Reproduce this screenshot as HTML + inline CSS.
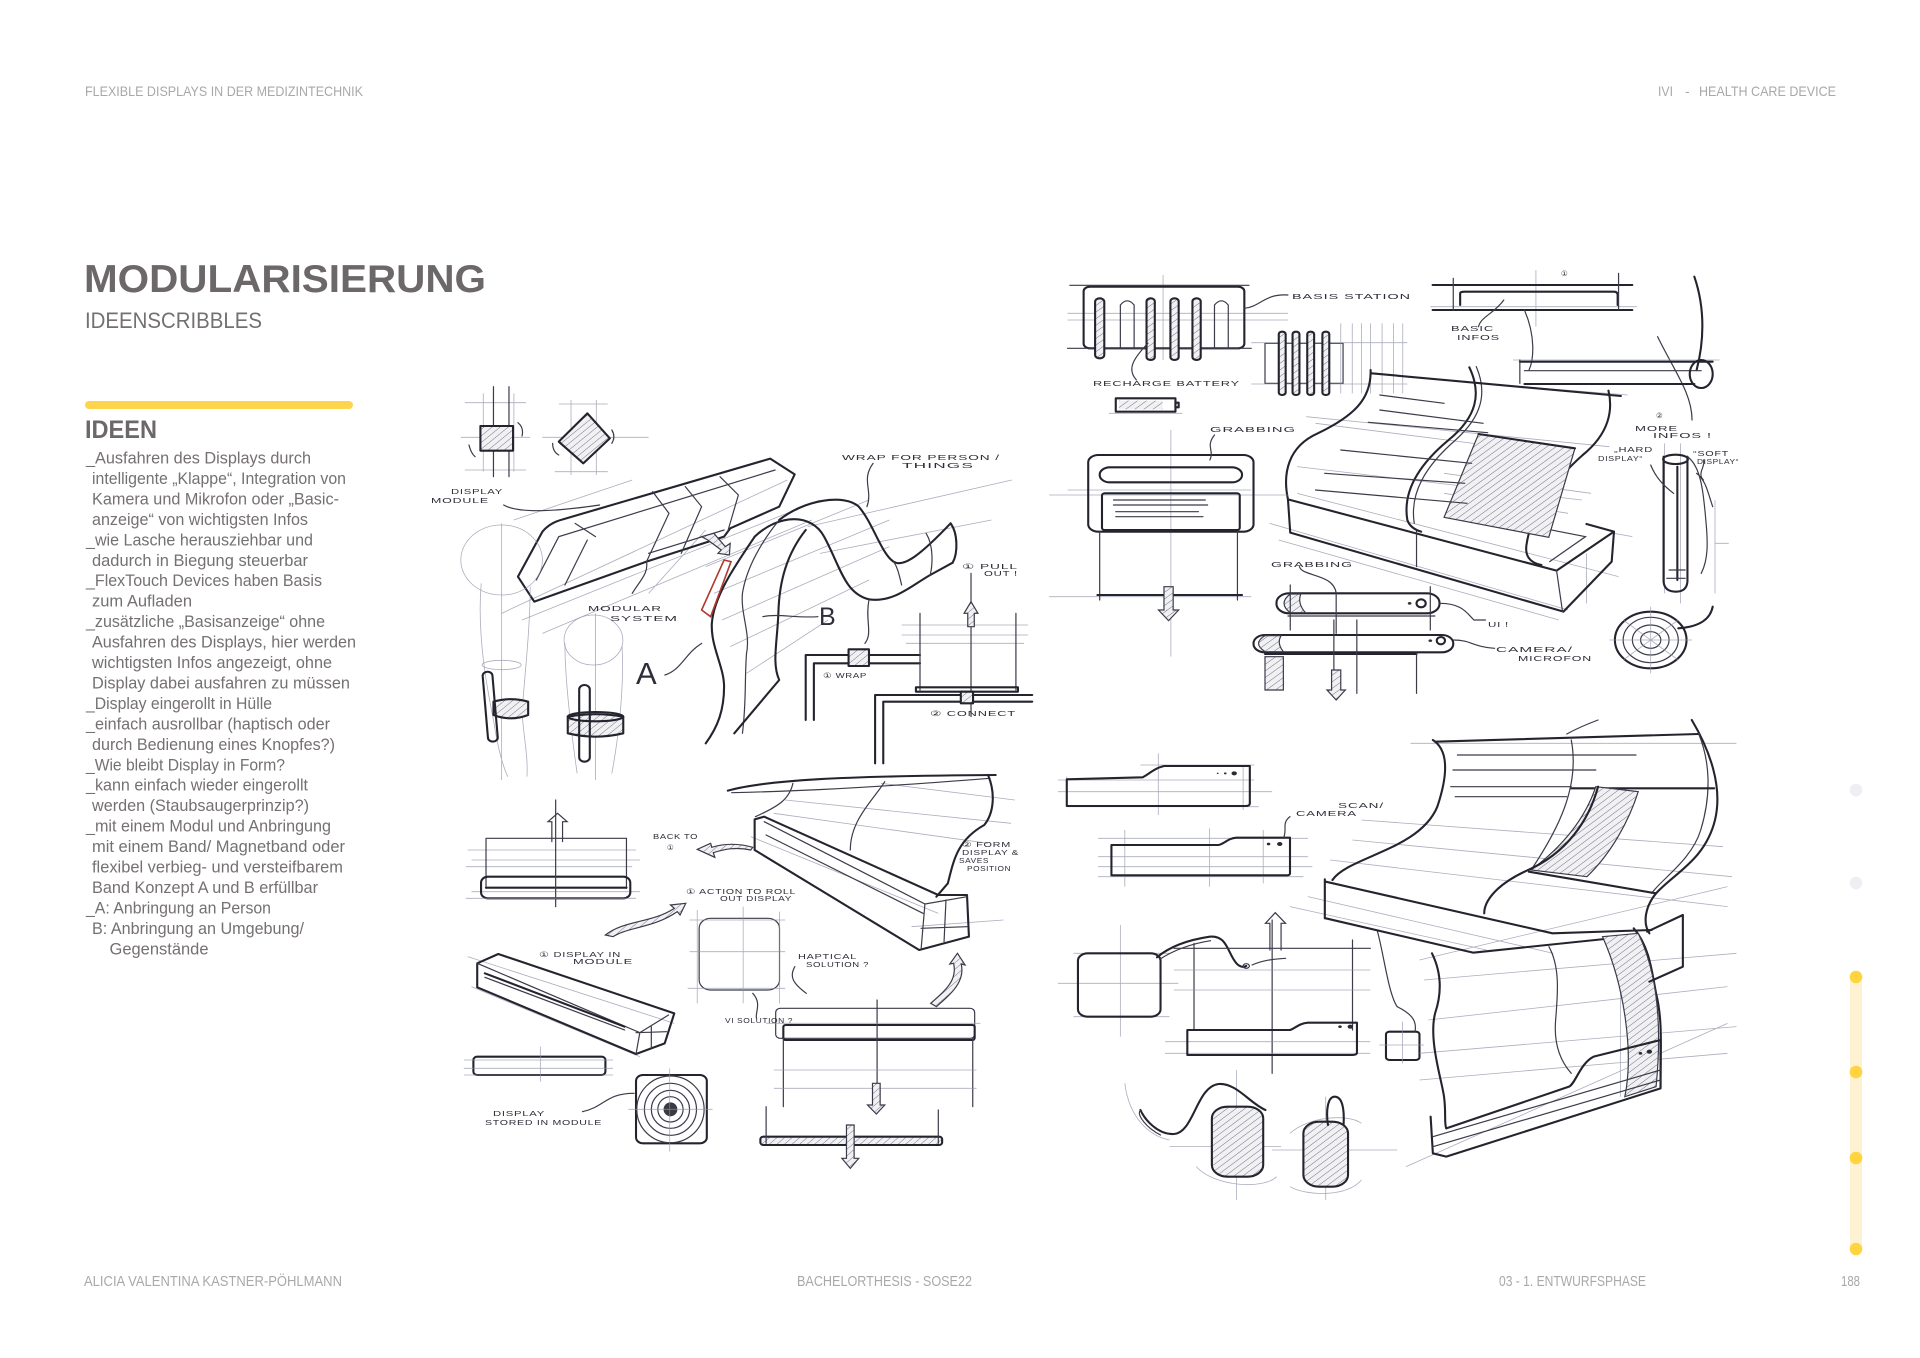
<!DOCTYPE html>
<html><head><meta charset="utf-8"><style>
html,body{margin:0;padding:0;background:#fff}
body{width:1920px;height:1358px;overflow:hidden}
svg{display:block}
.sk path,.sk rect,.sk ellipse,.sk circle,.sk line{vector-effect:non-scaling-stroke}
.k{stroke:#24242f;stroke-width:2.1;fill:none;stroke-linecap:round;stroke-linejoin:round}
.m{stroke:#3b3b4a;stroke-width:1.2;fill:none;stroke-linecap:round}
.t{stroke:#8f92a8;stroke-width:0.8;fill:none;opacity:.75}
.h{fill:url(#hatch)}
.lb{font-family:"Liberation Sans",sans-serif;font-size:7.5px;fill:#2e2e3a;letter-spacing:0.5px}
.tx{font-family:"Liberation Sans",sans-serif}
</style></head><body>
<svg width="1920" height="1358" viewBox="0 0 1920 1358" xmlns="http://www.w3.org/2000/svg">
<defs>
<pattern id="hatch" patternUnits="userSpaceOnUse" width="14" height="14" patternTransform="rotate(45)">
<rect width="14" height="14" fill="#f1f1f4"/>
<line x1="0" y1="0" x2="0" y2="14" stroke="#6a6a7a" stroke-width="2.5"/>
</pattern>
</defs>

<!-- header -->
<text class="tx" x="85" y="96" font-size="14" fill="#a8a8a8" textLength="278" lengthAdjust="spacingAndGlyphs">FLEXIBLE DISPLAYS IN DER MEDIZINTECHNIK</text>
<text class="tx" x="1658" y="96" font-size="14" fill="#a8a8a8" textLength="15" lengthAdjust="spacingAndGlyphs">IVI</text>
<text class="tx" x="1685" y="96" font-size="14" fill="#a8a8a8">-</text>
<text class="tx" x="1699" y="96" font-size="14" fill="#a8a8a8" textLength="137" lengthAdjust="spacingAndGlyphs">HEALTH CARE DEVICE</text>

<!-- title -->
<text class="tx" x="84" y="292" font-size="39" font-weight="bold" fill="#6c6768" textLength="402" lengthAdjust="spacingAndGlyphs">MODULARISIERUNG</text>
<text class="tx" x="85" y="328" font-size="22.5" fill="#747071" textLength="177" lengthAdjust="spacingAndGlyphs">IDEENSCRIBBLES</text>
<rect x="85" y="401" width="268" height="8" rx="4" fill="#ffd44d"/>
<text class="tx" x="85" y="438" font-size="25" font-weight="bold" fill="#6c6768" textLength="72" lengthAdjust="spacingAndGlyphs">IDEEN</text>

<g class="tx" font-size="16.5" fill="#757071">
<text x="86" y="463.5" textLength="225" lengthAdjust="spacingAndGlyphs">_Ausfahren des Displays durch</text>
<text x="92" y="484" textLength="254" lengthAdjust="spacingAndGlyphs">intelligente „Klappe“, Integration von</text>
<text x="92" y="504.4" textLength="247" lengthAdjust="spacingAndGlyphs">Kamera und Mikrofon oder „Basic-</text>
<text x="92" y="524.9" textLength="216" lengthAdjust="spacingAndGlyphs">anzeige“ von wichtigsten Infos</text>
<text x="86" y="545.3" textLength="227" lengthAdjust="spacingAndGlyphs">_wie Lasche herausziehbar und</text>
<text x="92" y="565.8" textLength="216" lengthAdjust="spacingAndGlyphs">dadurch in Biegung steuerbar</text>
<text x="86" y="586.2" textLength="236" lengthAdjust="spacingAndGlyphs">_FlexTouch Devices haben Basis</text>
<text x="92" y="606.7" textLength="100" lengthAdjust="spacingAndGlyphs">zum Aufladen</text>
<text x="86" y="627.1" textLength="239" lengthAdjust="spacingAndGlyphs">_zusätzliche „Basisanzeige“ ohne</text>
<text x="92" y="647.6" textLength="264" lengthAdjust="spacingAndGlyphs">Ausfahren des Displays, hier werden</text>
<text x="92" y="668" textLength="240" lengthAdjust="spacingAndGlyphs">wichtigsten Infos angezeigt, ohne</text>
<text x="92" y="688.5" textLength="258" lengthAdjust="spacingAndGlyphs">Display dabei ausfahren zu müssen</text>
<text x="86" y="708.9" textLength="186" lengthAdjust="spacingAndGlyphs">_Display eingerollt in Hülle</text>
<text x="86" y="729.4" textLength="244" lengthAdjust="spacingAndGlyphs">_einfach ausrollbar (haptisch oder</text>
<text x="92" y="749.8" textLength="243" lengthAdjust="spacingAndGlyphs">durch Bedienung eines Knopfes?)</text>
<text x="86" y="770.3" textLength="199" lengthAdjust="spacingAndGlyphs">_Wie bleibt Display in Form?</text>
<text x="86" y="790.7" textLength="222" lengthAdjust="spacingAndGlyphs">_kann einfach wieder eingerollt</text>
<text x="92" y="811.2" textLength="217" lengthAdjust="spacingAndGlyphs">werden (Staubsaugerprinzip?)</text>
<text x="86" y="831.6" textLength="245" lengthAdjust="spacingAndGlyphs">_mit einem Modul und Anbringung</text>
<text x="92" y="852.1" textLength="253" lengthAdjust="spacingAndGlyphs">mit einem Band/ Magnetband oder</text>
<text x="92" y="872.5" textLength="251" lengthAdjust="spacingAndGlyphs">flexibel verbieg- und versteifbarem</text>
<text x="92" y="893" textLength="226" lengthAdjust="spacingAndGlyphs">Band Konzept A und B erfüllbar</text>
<text x="86" y="913.4" textLength="185" lengthAdjust="spacingAndGlyphs">_A: Anbringung an Person</text>
<text x="92" y="933.9" textLength="212" lengthAdjust="spacingAndGlyphs">B: Anbringung an Umgebung/</text>
<text x="109.5" y="954.3" textLength="99" lengthAdjust="spacingAndGlyphs">Gegenstände</text>
</g>

<!-- footer -->
<g class="tx" font-size="15" fill="#a9a9a9">
<text x="84" y="1286" textLength="258" lengthAdjust="spacingAndGlyphs">ALICIA VALENTINA KASTNER-PÖHLMANN</text>
<text x="797" y="1286" textLength="175" lengthAdjust="spacingAndGlyphs">BACHELORTHESIS - SOSE22</text>
<text x="1499" y="1286" textLength="147" lengthAdjust="spacingAndGlyphs">03 - 1. ENTWURFSPHASE</text>
<text x="1841" y="1286" textLength="19" lengthAdjust="spacingAndGlyphs">188</text>
</g>

<!-- sidebar -->
<circle cx="1856" cy="790" r="6.3" fill="#eeeff2"/>
<circle cx="1856" cy="883" r="6.3" fill="#eeeff2"/>
<rect x="1850" y="977" width="12" height="272" fill="#fff2d2"/>
<circle cx="1856" cy="977" r="6.3" fill="#ffd43f"/>
<circle cx="1856" cy="1072" r="6.3" fill="#ffd43f"/>
<circle cx="1856" cy="1158" r="6.3" fill="#ffd43f"/>
<circle cx="1856" cy="1249" r="6.3" fill="#ffd43f"/>

<!-- ===== G7: left top sketches ===== -->
<g class="sk" transform="translate(420,380) scale(0.40816,0.33333)">
<path class="t" d="M155,40 V275 M230,40 V275 M110,68 H260 M110,270 H260 M100,172 H270"/>
<path class="m" d="M180,20 V290 M218,20 V290"/>
<rect class="k h" x="148" y="138" width="80" height="74"/>
<path class="m" d="M240,128 q15,15 10,40 M120,195 q5,25 15,35"/>
<path class="t" d="M370,60 V285 M432,60 V285 M340,72 H460 M330,275 H460 M300,172 H560"/>
<path class="k h" d="M410,100 L465,175 L400,250 L340,185 Z"/>
<path class="m" d="M470,150 q10,20 0,40 M325,190 q0,25 15,35"/>

<path class="t" d="M200,700 L900,300 M250,720 L980,360 M300,760 L960,420 M560,640 L700,450 M230,420 L520,300"/>
<path class="k" d="M240,590 L300,455 Q318,428 350,418 L858,236 L918,283 L880,380 L760,445 L745,470 L555,545 L280,665 Z"/>
<path class="m" d="M285,600 L340,470 L870,270 M380,430 L430,470 M410,480 L355,615 M570,335 L610,400 L555,545 M650,320 L690,380 L640,520 M735,290 L780,345 L755,450 M560,520 L745,450"/>
<path class="m" d="M205,375 C240,400 330,395 440,375 M520,640 C540,600 560,580 555,545"/>

<ellipse class="t" cx="200" cy="540" rx="100" ry="105"/>
<path class="t" d="M150,610 C140,750 160,900 180,1020 C190,1100 200,1150 215,1190 M270,620 C270,750 255,900 250,1000 C255,1080 265,1130 262,1190 M200,430 V1200"/>
<ellipse class="t" cx="200" cy="855" rx="48" ry="14"/>
<path class="k h" d="M180,965 L180,1005 Q222,1025 265,1005 L265,965 Q222,950 180,965 Z"/>
<rect class="k" x="160" y="875" width="24" height="210" rx="12" transform="rotate(-4 172 980)"/>

<ellipse class="t" cx="425" cy="780" rx="72" ry="75"/>
<path class="t" d="M355,790 C355,900 370,1050 385,1180 M495,800 C500,900 490,1050 470,1180 M430,700 V1200"/>
<path class="k h" d="M362,1010 L362,1060 Q430,1080 498,1060 L498,1010 Q430,995 362,1010 Z"/>
<ellipse class="k" cx="430" cy="1010" rx="68" ry="14"/>
<rect class="k" x="390" y="915" width="26" height="230" rx="13"/>

<path class="t" d="M700,560 L1100,360 M720,640 L1150,420 M740,720 L1150,500 M760,800 L1100,600 M800,880 L1000,720 M950,440 L1450,300 M980,520 L1400,420"/>
<path class="k" d="M820,470 C880,400 960,400 990,470 C1030,560 1040,640 1100,658 C1160,668 1200,620 1250,585 L1305,548"/>
<path class="k" d="M880,420 C940,360 1040,340 1075,380 C1110,430 1130,520 1160,545 C1185,565 1230,520 1300,430"/>
<path class="k" d="M1300,430 C1318,460 1318,520 1305,548"/>
<path class="m" d="M1160,545 C1170,560 1175,590 1180,615 M1240,460 C1260,500 1255,560 1250,585"/>
<path class="k" d="M820,470 C770,560 720,650 715,730 C712,800 745,860 745,920 C745,990 730,1040 700,1090"/>
<path class="m" d="M880,420 C840,480 800,560 790,640 C785,700 810,760 800,820 C795,900 800,960 790,1060"/>
<path class="k" d="M945,450 C900,520 880,600 878,700 C875,790 862,850 880,900 L770,1060"/>
<path d="M690,690 L745,540 L762,545 L712,710 Z" stroke="#b03a2e" stroke-width="1.6" fill="none" vector-effect="non-scaling-stroke"/>
<path class="m h" d="M690,470 L720,460 L748,500 L760,490 L758,525 L730,520 L738,510 L705,480 Z"/>
<path class="m" d="M1110,250 C1080,300 1110,330 1095,380 M600,885 C640,870 650,820 690,790 M840,710 C880,700 920,715 975,710 M1100,660 C1090,720 1110,760 1090,790"/>

<path class="k" d="M945,1020 V825 H1225 M965,1020 V850 H1225"/>
<rect class="k h" x="1050" y="808" width="50" height="50"/>
<path class="t" d="M1180,735 H1490 M1180,765 H1490 M1190,790 H1480"/>
<path class="m" d="M1225,700 V930 M1460,700 V930 M1350,580 V1010"/>
<path class="k" d="M1215,922 H1465 V935 H1215 Z"/>
<path class="m h" d="M1342,740 V700 H1333 L1350,665 L1367,700 H1358 V740 Z"/>
<path class="k" d="M1115,1150 V945 H1500 M1135,1150 V965 H1500"/>
<rect class="k h" x="1325" y="935" width="30" height="35"/>
</g>

<!-- ===== G9: left bottom sketches ===== -->
<g class="sk" transform="translate(460,760) scale(0.38265,0.33333)">
<path class="t" d="M20,270 H460 M30,300 H470 M15,320 H450 M30,395 H470"/>
<path class="m" d="M68,235 H435 V385 M68,235 V385"/>
<path class="k" d="M68,383 H435"/>
<rect class="k" x="55" y="350" width="390" height="65" rx="18"/>
<path class="m" d="M250,120 V440"/>
<path class="m" d="M240,245 V185 H230 L255,160 L280,185 H268 V245"/>
<path class="t" d="M15,415 H460"/>

<path class="m h" d="M760,270 C720,260 690,268 662,278 L666,292 L620,268 L655,250 L658,262 C690,250 730,250 765,262 Z"/>

<path class="t" d="M850,120 L1440,190 M820,160 L1380,250 M1100,70 L1450,120 M760,230 L1250,460 M1180,500 L1420,480"/>
<path class="k" d="M770,178 L795,170 L1250,405 L1325,405 L1330,530 L1200,570 L770,270 Z"/>
<path class="m" d="M795,185 L1215,432 L1205,568 M1215,432 L1325,410 M800,225 L1210,460 M1270,420 L1265,545 M1205,505 L1325,500"/>
<path class="k" d="M700,92 C800,60 1000,48 1400,45"/>
<path class="m" d="M710,98 C820,95 1000,90 1385,55"/>
<path class="k" d="M1380,45 C1400,100 1395,160 1370,195 C1300,240 1290,300 1275,370 L1245,410"/>
<path class="m" d="M772,170 C830,140 860,120 870,70 M1020,270 C1020,180 1080,120 1110,65"/>

<path class="m h" d="M380,525 C430,480 500,490 560,445 L550,435 L590,430 L575,465 L568,455 C505,505 440,500 400,530 Z"/>

<rect class="m" x="625" y="475" width="210" height="215" rx="30"/>
<path class="t" d="M620,450 V730 M835,455 V730 M740,440 V730 M600,480 H850 M600,575 H850 M595,685 H850"/>
<path class="m" d="M875,620 C860,650 870,670 905,700 M765,700 C790,730 770,760 775,775"/>

<path class="t" d="M20,590 L560,790 M30,680 L470,890"/>
<path class="k" d="M45,610 L100,582 L560,760 L535,850 L460,882 L45,682 Z"/>
<path class="m" d="M45,610 L470,818 L460,882 M470,818 L545,765 M500,800 V865 M460,818 L540,815"/>
<path class="k" d="M65,640 L430,800"/>
<path class="m" d="M65,652 L430,810"/>

<rect class="k" x="35" y="890" width="345" height="55" rx="10"/>
<path class="t" d="M10,900 H400 M10,925 H400 M10,945 H400 M210,860 V965"/>

<rect class="k" x="460" y="945" width="185" height="205" rx="18"/>
<ellipse class="m" cx="550" cy="1048" rx="88" ry="100"/>
<ellipse class="m" cx="550" cy="1048" rx="68" ry="78"/>
<ellipse class="m" cx="550" cy="1048" rx="50" ry="57"/>
<ellipse class="m" cx="550" cy="1048" rx="33" ry="38"/>
<ellipse cx="550" cy="1048" rx="18" ry="21" fill="#3a3a44"/>
<path class="t" d="M548,925 V1175 M440,1048 H660"/>
<path class="m" d="M320,1055 C380,1040 380,1000 455,1000"/>

<rect class="m" x="825" y="745" width="520" height="90" rx="12"/>
<rect class="k" x="845" y="795" width="500" height="45" rx="6"/>
<path class="m" d="M845,835 V1040 M1340,835 V1040 M1090,720 V1060"/>
<path class="t" d="M820,930 H1350 M820,985 H1350 M800,790 H1360"/>
<path class="m h" d="M1078,970 V1035 H1065 L1088,1062 L1110,1035 H1098 V970 Z"/>
<rect class="k h" x="785" y="1130" width="475" height="25" rx="8"/>
<path class="m" d="M800,1040 V1150 M1250,1050 V1150"/>
<path class="m h" d="M1010,1095 V1195 H998 L1020,1225 L1042,1195 H1030 V1095 Z"/>
<path class="m h" d="M1230,730 C1270,690 1300,660 1290,610 L1280,612 L1300,580 L1320,615 L1310,612 C1320,665 1285,700 1245,740 Z"/>
</g>

<!-- ===== G8: right top sketches ===== -->
<g class="sk" transform="translate(1040,260) scale(0.45918,0.33333)">
<path class="t" d="M268,45 V300 M60,160 H540 M60,180 H540"/>
<rect class="k" x="95" y="80" width="350" height="185" rx="14"/>
<path class="m" d="M65,76 H455 M60,265 H460"/>
<rect class="k h" x="120" y="115" width="20" height="180" rx="10"/>
<rect class="k h" x="232" y="115" width="18" height="185" rx="9"/>
<rect class="k h" x="284" y="115" width="18" height="185" rx="9"/>
<rect class="k h" x="332" y="115" width="18" height="185" rx="9"/>
<path class="m" d="M175,265 V135 Q190,110 205,135 V265 M380,265 V135 Q395,110 410,135 V265"/>
<path class="m" d="M445,145 C480,140 490,100 540,105 M235,250 C200,300 190,330 210,360"/>

<rect class="k" x="165" y="415" width="130" height="40"/>
<rect class="h" x="172" y="422" width="95" height="26"/>
<rect class="k" x="295" y="428" width="7" height="14"/>
<path class="t" d="M150,460 H310"/>

<rect class="m" x="490" y="250" width="170" height="120"/>
<path class="t" d="M655,190 V400 M680,190 V400 M700,190 V400 M720,190 V400 M745,190 V400 M770,190 V400 M790,190 V400 M460,248 H800 M460,372 H800"/>
<rect class="k h" x="520" y="215" width="15" height="190" rx="7"/>
<rect class="k h" x="550" y="215" width="15" height="190" rx="7"/>
<rect class="k h" x="582" y="215" width="15" height="190" rx="7"/>
<rect class="k h" x="615" y="215" width="15" height="190" rx="7"/>

<path class="t" d="M1080,30 V200 M850,140 H1300"/>
<path class="k" d="M855,75 H1290 M855,150 H1290"/>
<path class="k" d="M915,135 V100 Q915,95 925,95 H1250 Q1258,95 1258,105 V135"/>
<path class="m" d="M900,55 V150 M1260,40 V150 M1010,120 C990,160 960,170 955,200"/>
<path class="m" d="M1055,150 C1080,230 1075,300 1065,330"/>
<path class="k" d="M1425,50 C1450,150 1445,250 1430,330"/>
<path class="m" d="M1345,230 C1380,330 1420,400 1420,480"/>
<path class="t" d="M1030,300 H1480 M1050,380 L1280,405"/>
<path class="k" d="M1045,305 H1465 M1055,372 H1425"/>
<path class="m" d="M1045,300 V370 M1055,332 H1440"/>
<ellipse class="k" cx="1440" cy="342" rx="25" ry="42"/>

<path class="t" d="M500,790 L1150,1050 M520,840 L1130,1080 M560,700 L1260,950 M1190,880 V1030 M1250,820 L1290,830 M600,490 L1000,560 M560,620 L1180,720 M880,640 L1200,700 M880,700 L1150,760 M580,470 L1240,560"/>
<path class="k" d="M540,718 L545,818 L1140,1055 L1245,905 L1250,815 L1190,792"/>
<path class="k" d="M540,718 L1125,932 L1250,815"/>
<path class="m" d="M1125,932 L1138,1055 M820,812 V920 M1110,905 L1188,830 L1095,805"/>
<path class="k" d="M720,330 C722,420 680,470 605,520 C540,560 528,640 540,718"/>
<path class="k" d="M935,322 C962,400 952,470 890,540 C820,620 790,700 800,780 C805,800 818,810 830,815"/>
<path class="m" d="M950,320 C975,400 962,470 905,540 C838,620 805,700 815,790"/>
<path class="k" d="M1238,392 C1248,450 1240,520 1182,585 C1120,660 1070,760 1060,850 C1055,885 1065,908 1092,915"/>
<path class="k" d="M722,340 L1265,408"/>
<path class="m h" d="M955,522 L1165,565 L1108,832 L880,772 Z"/>
<path class="k" d="M955,522 L1165,565"/>
<path class="m" d="M740,405 L880,430 M740,450 L965,490 M715,487 L975,518 M655,570 L940,610 M620,640 L925,670 M600,690 L930,730"/>

<path class="t" d="M285,510 V1190 M20,705 H540 M60,690 H460 M20,1010 H460"/>
<rect class="k" x="105" y="585" width="360" height="230" rx="22"/>
<rect class="k" x="130" y="622" width="310" height="45" rx="22"/>
<rect class="k" x="135" y="700" width="300" height="110" rx="6"/>
<path class="m" d="M160,720 H360 M160,735 H365 M165,755 H345 M165,770 H355 M130,815 V1020 M430,815 V1020 M380,525 C360,560 380,570 370,600"/>
<path class="k" d="M125,1005 H440"/>
<path class="m h" d="M270,980 V1050 H258 L280,1082 L302,1050 H290 V980 Z"/>

<rect class="k" x="515" y="1000" width="355" height="60" rx="28"/>
<path class="m h" d="M545,1002 Q518,1030 545,1058 H578 Q560,1030 568,1002 Z"/>
<ellipse class="k" cx="830" cy="1030" rx="10" ry="12"/>
<circle cx="805" cy="1030" r="4" fill="#333"/>
<path class="m" d="M540,1068 H860 M545,975 V1110 M850,980 V1110 M645,1000 V1120 M870,1030 C920,1030 930,1060 945,1080 H970 M565,920 C570,950 640,940 645,1000"/>
<rect class="k" x="465" y="1125" width="435" height="52" rx="25"/>
<path class="m h" d="M490,1127 Q462,1150 490,1175 H530 Q515,1150 525,1127 Z"/>
<ellipse class="k" cx="873" cy="1142" rx="9" ry="11"/>
<circle cx="850" cy="1142" r="4" fill="#333"/>
<path class="k" d="M490,1182 H820"/>
<path class="m h" d="M490,1190 V1290 H530 V1190 Z"/>
<path class="m" d="M640,1080 V1300 M690,1080 V1300 M820,1180 V1300 M900,1140 C940,1140 940,1160 990,1165"/>
<path class="m h" d="M635,1230 V1290 H625 L645,1320 L665,1290 H655 V1230 Z"/>

<path class="t" d="M1360,550 V1000 M1395,550 V1030 M1470,720 V1000 M1470,850 H1500"/>
<path class="k" d="M1358,590 V965 Q1360,995 1385,995 Q1408,995 1410,965 V590"/>
<ellipse class="k" cx="1384" cy="598" rx="27" ry="14"/>
<path class="k" d="M1388,620 V960"/>
<path class="m" d="M1370,930 H1405 M1365,955 H1405 M1410,590 C1440,620 1445,700 1450,780 C1455,850 1455,900 1440,940 M1430,640 C1450,660 1455,700 1465,740 M1330,615 C1340,650 1360,680 1380,700 M1445,600 C1450,620 1430,640 1445,660"/>
<ellipse class="k" cx="1330" cy="1140" rx="78" ry="85"/>
<ellipse class="m" cx="1330" cy="1140" rx="60" ry="68"/>
<ellipse class="m" cx="1330" cy="1140" rx="40" ry="45"/>
<ellipse class="m" cx="1330" cy="1140" rx="22" ry="25"/>
<path class="k" d="M1390,1105 C1440,1100 1460,1075 1465,1040"/>
<path class="t" d="M1240,1140 H1420 M1330,1040 V1240 M1270,1080 L1390,1200 M1270,1200 L1390,1080"/>
</g>

<!-- ===== G10: right bottom sketches ===== -->
<g class="sk" transform="translate(1040,720) scale(0.44643,0.33333)">
<path class="t" d="M40,180 H480 M40,215 H520 M225,135 H480 M60,260 H490 M265,100 V285 M455,140 V270 M60,170 V260"/>
<path class="k" d="M60,178 L230,172 C245,162 255,145 278,138 L470,138 V250 Q470,258 460,258 H60 Z"/>
<circle cx="435" cy="160" r="6" fill="#2a2a33"/><circle cx="415" cy="160" r="3" fill="#2a2a33"/><circle cx="398" cy="160" r="2" fill="#2a2a33"/>

<path class="t" d="M130,355 H600 M130,410 H600 M130,440 H610 M130,470 H590 M190,330 V500 M380,325 V500 M500,330 V490"/>
<path class="k" d="M160,375 L400,375 C415,370 420,355 440,353 L560,353 V460 Q560,466 552,466 H160 Z"/>
<circle cx="537" cy="372" r="6" fill="#2a2a33"/><circle cx="512" cy="372" r="4" fill="#2a2a33"/>
<path class="m" d="M545,355 C555,330 540,310 560,290"/>

<path class="t" d="M180,615 V950 M40,790 H310 M75,700 H290 M75,890 H290"/>
<rect class="k" x="85" y="700" width="185" height="190" rx="22"/>
<path class="k" d="M262,712 C290,680 330,660 380,650 C420,645 420,700 440,730 C450,745 458,740 462,738"/>
<path class="m" d="M268,718 C300,690 335,672 382,662"/>
<circle class="m" cx="462" cy="738" r="7"/>
<path class="m" d="M475,735 C500,720 520,718 550,715 M345,670 V930 M700,660 V930 M300,685 H740 M520,600 V1060"/>
<path class="t" d="M300,750 H740 M300,810 H740 M280,1000 H740 M280,965 H740"/>
<path class="m" d="M515,690 V610 H505 L527,578 L550,610 H540 V690"/>
<path class="k" d="M330,930 L560,930 C572,925 580,910 600,908 L710,908 V998 Q710,1005 700,1005 H330 Z"/>
<circle cx="695" cy="920" r="6" fill="#2a2a33"/><circle cx="672" cy="920" r="4" fill="#2a2a33"/>

<rect class="k" x="775" y="935" width="75" height="85" rx="8"/>
<path class="t" d="M812,905 V1030 M760,975 H860"/>
<path class="m" d="M840,935 C845,900 830,880 800,860 C780,820 770,700 755,630"/>

<path class="t" d="M830,70 H1560 M720,300 L1530,380 M700,360 L1550,470 M650,420 L1540,560 M600,530 L1150,700 M560,560 L1000,690 M850,720 L1540,500 M820,1340 L1540,910 M850,1000 L1560,920 M850,1080 L1540,1000 M870,900 L1540,800 M860,780 L1560,700 M1300,700 V1130"/>
<path class="k" d="M880,60 C915,90 915,160 890,260 C850,390 690,410 655,480"/>
<path class="k" d="M885,65 L1475,42"/>
<path class="m" d="M1180,42 C1210,20 1240,5 1250,0 M1190,60 C1210,200 1160,330 1100,450"/>
<path class="k" d="M1460,0 C1500,90 1530,200 1512,300 C1490,420 1420,460 1380,520 C1355,560 1350,610 1365,640"/>
<path class="m" d="M1475,40 C1500,120 1505,220 1480,330 C1460,420 1390,480 1370,520"/>
<path class="k" d="M1190,205 H1510 M1095,455 L1380,520"/>
<path class="m h" d="M1245,200 L1340,215 C1320,300 1280,400 1225,470 L1100,450 C1170,380 1220,300 1245,200 Z"/>
<path class="k" d="M1250,200 C1230,300 1180,400 1090,452 C1020,495 995,545 995,580"/>
<path class="m" d="M935,105 H1335 M925,150 H1245 M930,230 H1180 M920,200 H1190"/>
<path class="k" d="M638,478 V595 M640,485 L1148,640 L1370,630 M640,595 L970,698 L1330,648"/>
<path class="k" d="M878,700 C900,760 900,820 885,880 C870,960 900,1080 905,1130 C910,1180 905,1210 910,1225"/>
<path class="k" d="M1330,625 C1365,680 1370,750 1380,820 C1395,900 1390,980 1390,1100"/>
<path class="m" d="M1140,680 C1165,740 1160,820 1155,900 C1150,980 1170,1030 1190,1060"/>
<path class="m h" d="M1260,650 L1340,640 C1380,750 1395,900 1380,1100 L1310,1130 C1330,1000 1310,800 1260,650 Z"/>
<path class="k" d="M910,1225 L1185,1100 C1200,1090 1210,1030 1240,1010 L1390,960 V1105 L910,1310 L880,1300 L875,1190"/>
<path class="m" d="M880,1250 L1390,1050 M880,1280 L1390,1080"/>
<path class="k" d="M1440,585 V740 L1365,785 M1440,585 L1360,635"/>
<circle cx="1365" cy="995" r="6" fill="#2a2a33"/><circle cx="1345" cy="1000" r="4" fill="#2a2a33"/>

<path class="t" d="M440,1050 V1440 M290,1280 H540 M640,1130 V1440 M520,1290 H800 M190,1090 C200,1200 250,1250 290,1260 M560,1240 C600,1190 690,1180 720,1210 M350,1340 C390,1400 500,1410 530,1370 M560,1400 C600,1430 690,1430 720,1380"/>
<path class="k" d="M225,1170 C235,1200 265,1245 300,1242 C345,1238 350,1100 400,1092 C440,1088 470,1150 505,1170"/>
<path class="m" d="M225,1170 C215,1185 240,1225 270,1245"/>
<rect class="k h" x="385" y="1160" width="115" height="210" rx="35"/>
<rect class="k h" x="590" y="1205" width="100" height="195" rx="35"/>
<path class="k" d="M645,1215 C640,1170 645,1130 660,1130 C678,1130 682,1170 680,1215"/>
</g>

<!-- sketch labels -->
<g class="lb">
<text x="451" y="494" textLength="52" lengthAdjust="spacingAndGlyphs">DISPLAY</text>
<text x="431" y="503" textLength="58" lengthAdjust="spacingAndGlyphs">MODULE</text>
<text x="842" y="460" textLength="158" lengthAdjust="spacingAndGlyphs">WRAP FOR PERSON /</text>
<text x="902" y="468" textLength="72" lengthAdjust="spacingAndGlyphs">THINGS</text>
<text x="588" y="611" textLength="74" lengthAdjust="spacingAndGlyphs">MODULAR</text>
<text x="610" y="621" textLength="68" lengthAdjust="spacingAndGlyphs">SYSTEM</text>
<text x="962" y="569" textLength="56" lengthAdjust="spacingAndGlyphs">① PULL</text>
<text x="984" y="576" textLength="34" lengthAdjust="spacingAndGlyphs">OUT !</text>
<text x="823" y="678" textLength="44" lengthAdjust="spacingAndGlyphs">① WRAP</text>
<text x="930" y="716" textLength="86" lengthAdjust="spacingAndGlyphs">② CONNECT</text>
<text x="653" y="839" textLength="45" lengthAdjust="spacingAndGlyphs">BACK TO</text>
<text x="667" y="850">①</text>
<text x="962" y="847" textLength="49" lengthAdjust="spacingAndGlyphs">② FORM</text>
<text x="962" y="855" textLength="57" lengthAdjust="spacingAndGlyphs">DISPLAY &amp;</text>
<text x="959" y="863" textLength="30" lengthAdjust="spacingAndGlyphs">SAVES</text>
<text x="967" y="871" textLength="44" lengthAdjust="spacingAndGlyphs">POSITION</text>
<text x="686" y="894" textLength="110" lengthAdjust="spacingAndGlyphs">① ACTION TO ROLL</text>
<text x="720" y="901" textLength="72" lengthAdjust="spacingAndGlyphs">OUT DISPLAY</text>
<text x="539" y="957" textLength="82" lengthAdjust="spacingAndGlyphs">① DISPLAY IN</text>
<text x="573" y="964" textLength="60" lengthAdjust="spacingAndGlyphs">MODULE</text>
<text x="798" y="959" textLength="59" lengthAdjust="spacingAndGlyphs">HAPTICAL</text>
<text x="806" y="967" textLength="63" lengthAdjust="spacingAndGlyphs">SOLUTION ?</text>
<text x="725" y="1023" textLength="68" lengthAdjust="spacingAndGlyphs">VI SOLUTION ?</text>
<text x="493" y="1116" textLength="52" lengthAdjust="spacingAndGlyphs">DISPLAY</text>
<text x="485" y="1125" textLength="117" lengthAdjust="spacingAndGlyphs">STORED IN MODULE</text>
<text x="1292" y="299" textLength="119" lengthAdjust="spacingAndGlyphs">BASIS STATION</text>
<text x="1093" y="386" textLength="147" lengthAdjust="spacingAndGlyphs">RECHARGE BATTERY</text>
<text x="1561" y="276">①</text>
<text x="1451" y="331" textLength="43" lengthAdjust="spacingAndGlyphs">BASIC</text>
<text x="1457" y="340" textLength="43" lengthAdjust="spacingAndGlyphs">INFOS</text>
<text x="1656" y="418">②</text>
<text x="1635" y="431" textLength="43" lengthAdjust="spacingAndGlyphs">MORE</text>
<text x="1653" y="438" textLength="59" lengthAdjust="spacingAndGlyphs">INFOS !</text>
<text x="1614" y="452" textLength="39" lengthAdjust="spacingAndGlyphs">„HARD</text>
<text x="1598" y="461" textLength="45" lengthAdjust="spacingAndGlyphs">DISPLAY“</text>
<text x="1693" y="456" textLength="36" lengthAdjust="spacingAndGlyphs">“SOFT</text>
<text x="1697" y="464" textLength="42" lengthAdjust="spacingAndGlyphs">DISPLAY“</text>
<text x="1210" y="432" textLength="86" lengthAdjust="spacingAndGlyphs">GRABBING</text>
<text x="1271" y="567" textLength="82" lengthAdjust="spacingAndGlyphs">GRABBING</text>
<text x="1488" y="627" textLength="21" lengthAdjust="spacingAndGlyphs">UI !</text>
<text x="1496" y="652" textLength="77" lengthAdjust="spacingAndGlyphs">CAMERA/</text>
<text x="1518" y="661" textLength="74" lengthAdjust="spacingAndGlyphs">MICROFON</text>
<text x="1338" y="808" textLength="46" lengthAdjust="spacingAndGlyphs">SCAN/</text>
<text x="1296" y="816" textLength="61" lengthAdjust="spacingAndGlyphs">CAMERA</text>
</g>
<text class="tx" x="636" y="684" font-size="31" fill="#2e2e3a">A</text>
<text class="tx" x="819" y="625" font-size="25" fill="#2e2e3a">B</text>
</svg>
</body></html>
